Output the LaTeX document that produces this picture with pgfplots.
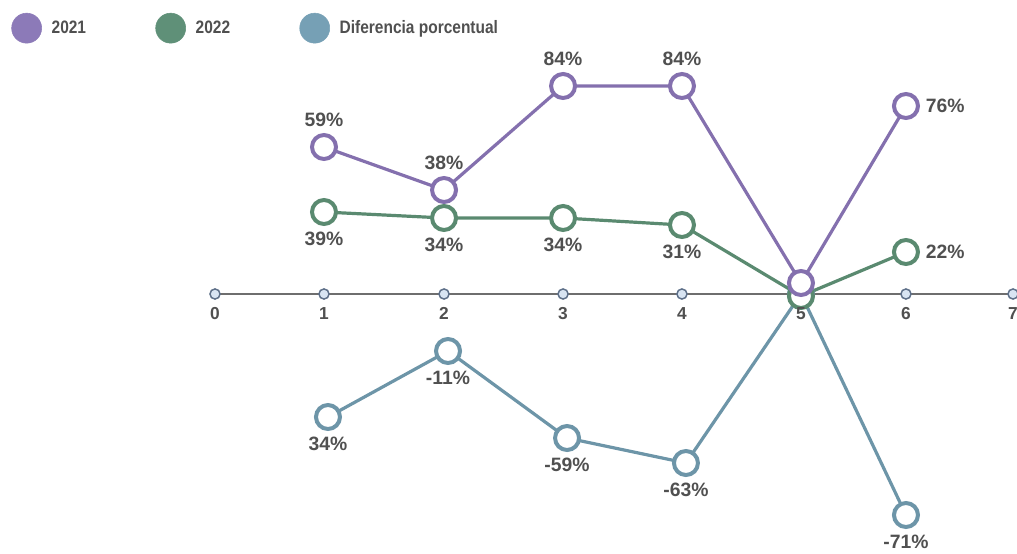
\documentclass[border=0pt]{standalone}
\usepackage{pgfplots}
\pgfplotsset{compat=1.18}
\usepackage{pgfplotstable}
\usepackage{fontspec}
\setmainfont{Liberation Sans}
\newfontfamily\legfont{Liberation Sans}[FakeStretch=0.86]

\definecolor{cA}{HTML}{8470AE}
\definecolor{cB}{HTML}{5A8A70}
\definecolor{cC}{HTML}{6D95A8}
\definecolor{lA}{HTML}{8C7AB8}
\definecolor{lB}{HTML}{5F9078}
\definecolor{lC}{HTML}{76A0B5}
\definecolor{txt}{HTML}{505050}
\definecolor{axc}{HTML}{6E6E6E}
\definecolor{tickfill}{HTML}{D8E4F2}
\definecolor{tickdraw}{HTML}{5E7089}

% y values are the drawn heights (px above the axis line), labels are the printed text
\pgfplotstableread{
x y lab
0.956 147 59\%
2.009 104 38\%
3.053 208 84\%
4.096 208 84\%
5.140 11 {}
6.061 188 {}
}\tA
\pgfplotstableread{
x y lab
0.956 82 39\%
2.009 76 34\%
3.053 76 34\%
4.096 69 31\%
5.140 -2 {}
6.061 42 {}
}\tB
\pgfplotstableread{
x y lab
0.991 -123 34\%
2.044 -57 -11\%
3.088 -144 -59\%
4.131 -169 -63\%
5.140 0 {}
6.061 -221 -71\%
}\tC
\pgfplotstableread{
x y lab
0 0 0
0.956 0 1
2.009 0 2
3.053 0 3
4.096 0 4
5.140 0 5
6.061 0 6
7 0 7
}\tT

\begin{document}
\begin{tikzpicture}
\begin{axis}[
  x=85.5pt, y=0.75pt,
  xmin=-1.886, xmax=7.035, ymin=-259, ymax=294,
  hide axis, clip=false,
  legend columns=3,
  legend style={draw=none, fill=none, at={(0.007,0.982)}, anchor=north west,
    font=\legfont\bfseries\fontsize{13.5}{15}\selectfont, text=txt,
    /tikz/every even column/.append style={column sep=50pt}},
  lineser/.style={color=#1, line width=2.4pt, mark=*, mark size=9pt,
    mark options={fill=white, draw=#1, line width=3pt},
    point meta=explicit symbolic, nodes near coords},
  lab/.style={nodes near coords style={anchor=#1, inner sep=0pt, outer sep=15pt,
      text=txt, font=\bfseries\fontsize{14.5}{17}\selectfont}},
]
\addlegendimage{legend image code/.code={\fill[lA] (11.25pt,0pt) circle (11.25pt); \path[draw=none] (0,0) -- (28pt,0);}}
\addlegendentry{2021}
\addlegendimage{legend image code/.code={\fill[lB] (11.25pt,0pt) circle (11.25pt); \path[draw=none] (0,0) -- (28pt,0);}}
\addlegendentry{2022}
\addlegendimage{legend image code/.code={\fill[lC] (11.25pt,0pt) circle (11.25pt); \path[draw=none] (0,0) -- (28pt,0);}}
\addlegendentry{Diferencia porcentual}

\addplot[axc, line width=1.5pt, forget plot] coordinates {(0,0) (7,0)};
\addplot[only marks, mark=*, mark size=3.8pt,
  mark options={fill=tickfill, draw=tickdraw, line width=1.1pt},
  forget plot] table {\tT};

\addplot[lineser=cC, lab=north, forget plot] table[meta=lab] {\tC};
\addplot[lineser=cB, lab=north, forget plot] table[meta=lab] {\tB};
\addplot[lineser=cA, lab=south, forget plot] table[meta=lab] {\tA};
% labels set to the right of the last points
\addplot[draw=none, mark=none, point meta=explicit symbolic, nodes near coords,
  lab=west, forget plot] coordinates {(6.061,188) [76\%] (6.061,42) [22\%]};
% tick numbers on top
\addplot[draw=none, mark=none, point meta=explicit symbolic, nodes near coords,
  nodes near coords style={anchor=north, inner sep=0pt, outer sep=10pt,
    text=txt, font=\bfseries\fontsize{13}{15}\selectfont},
  forget plot] table[meta=lab] {\tT};
\end{axis}
\pgfresetboundingbox
\path (current axis.south west) rectangle (current axis.north east);
\end{tikzpicture}
\end{document}
